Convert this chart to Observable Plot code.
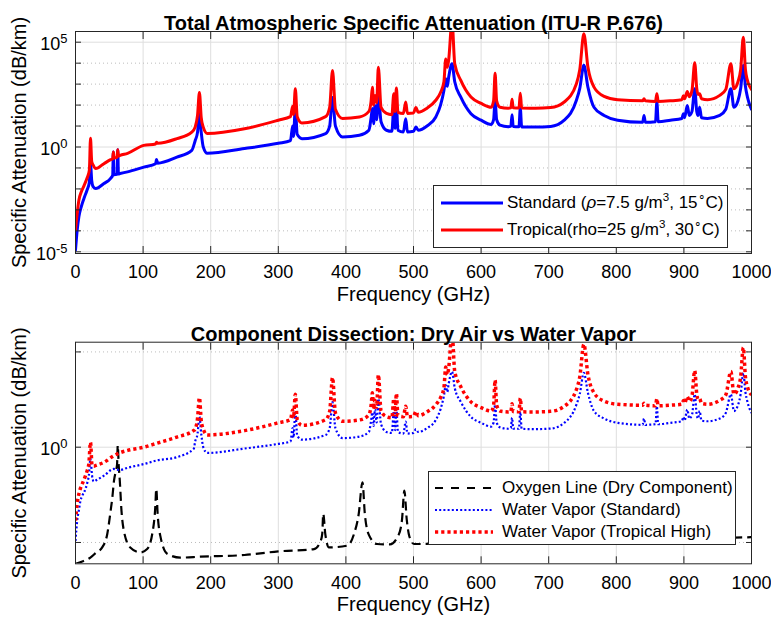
<!DOCTYPE html>
<html><head><meta charset="utf-8">
<script src="https://cdn.jsdelivr.net/npm/d3@7"></script>
<script src="https://cdn.jsdelivr.net/npm/@observablehq/plot@0.6"></script>
<style>
body{margin:0;background:#fff;font-family:"Liberation Sans",Arial,Helvetica,sans-serif;}
#wrap{position:relative;width:771px;height:626px;overflow:hidden;background:#fff}
.panel{position:absolute;left:0}
.legend{position:absolute;background:#fff;border:1px solid #262626;box-sizing:border-box;font-size:17px;color:#000}
.legend .txt{position:absolute;white-space:nowrap;line-height:20px;height:20px}
.legend svg{position:absolute;overflow:visible}
.legend sup{font-size:0.68em;vertical-align:0.6em;line-height:0}
</style></head><body><div id="wrap"></div>
<script>
// ---------- data (dB/km) ----------
const freqTotal = [0, 2.5, 5, 8.5, 12.5, 17, 20.5, 22.2, 24, 26,
  30, 42, 52, 55, 56, 57, 61.5, 62.5, 63.5, 66,
  77, 101, 118.5, 119.9, 121.5, 150, 172, 177, 180.5, 183.3,
  186, 189, 195, 250, 300, 318, 321.2, 322.5, 325.2, 328,
  335, 370, 376, 380.2, 384.5, 395, 420, 434, 437.3, 439.2,
  441, 443, 445.5, 448, 452, 460, 468, 470.9, 472.8, 474.7,
  477, 485, 488.5, 491, 500, 503.6, 507, 520, 533, 540,
  545, 547.7, 550, 552, 557, 561, 570, 585, 600, 615,
  618.5, 620.7, 623, 628, 640, 644, 645.8, 647.5, 656, 658,
  660, 680, 703, 723, 741, 746, 752, 758, 767, 782,
  802, 839, 841, 843, 858, 860, 862, 880, 897, 899.3,
  901, 905, 908, 912, 916, 919, 921, 923.3, 926, 935,
  953, 962, 969.5, 974, 980, 984, 987.9, 991, 994, 1000];
const stdTotal = [1.2e-5, 1.1e-4, 4.7e-4, 1.4e-3, 3.5e-3, 8.7e-3, 0.021, 0.16, 0.025, 0.013,
  0.0105, 0.018, 0.032, 0.045, 0.58, 0.048, 0.05, 0.74, 0.052, 0.054,
  0.065, 0.11, 0.16, 0.25, 0.17, 0.33, 0.69, 2.0, 5.0, 40,
  5.0, 1.0, 0.5, 0.85, 1.5, 2.0, 10, 3.2, 79, 4.0,
  2.5, 4.4, 10, 230, 10, 3.0, 3.6, 6.3, 25, 68,
  13, 95, 20, 350, 16, 6.3, 5.6, 79, 7.9, 100,
  6.3, 5.2, 22, 5.2, 5.6, 8.9, 6.3, 10, 27, 100,
  500, 1800, 790, 2100, 9300, 1300, 240, 39, 19, 12,
  20, 170, 20, 11, 9.3, 10, 35, 9.5, 9.3, 72,
  9.1, 8.9, 9.5, 19, 170, 630, 7900, 720, 79, 32,
  19, 15, 32, 15, 16, 140, 16, 19, 23, 39,
  25, 95, 32, 50, 600, 50, 32, 79, 25, 23,
  32, 63, 600, 79, 160, 630, 7800, 790, 240, 63];
const tropTotal = [1.1e-4, 6.8e-4, 2.9e-3, 7.2e-3, 0.014, 0.032, 0.079, 2.6, 0.2, 0.14,
  0.093, 0.16, 0.25, 0.28, 0.58, 0.3, 0.33, 0.74, 0.37, 0.4,
  0.5, 1.2, 1.4, 1.7, 1.5, 2.5, 5.1, 8.9, 32, 400,
  25, 8.9, 4.4, 7.4, 19, 28, 89, 35, 600, 28,
  14, 28, 79, 4500, 63, 23, 27, 50, 160, 710,
  100, 290, 130, 6300, 79, 40, 35, 350, 50, 660,
  45, 40, 140, 40, 42, 76, 45, 71, 170, 400,
  1300, 16000, 6300, 14000, 1e6, 9300, 1500, 240, 120, 79,
  160, 3300, 160, 79, 71, 74, 190, 74, 72, 370,
  72, 71, 76, 140, 1050, 5000, 250000, 6500, 720, 260,
  180, 160, 200, 160, 150, 350, 150, 160, 180, 280,
  200, 450, 250, 500, 10500, 630, 320, 350, 200, 180,
  290, 560, 9300, 600, 1300, 5000, 170000, 5000, 1500, 560];

// water vapour only (lower panel); above 177 GHz it follows the totals
const freqWV = [0, 2.5, 5, 7.4, 10, 14.8, 17.3, 19.7, 22.2, 24.5, 27, 30, 42, 56.7, 65, 77, 101, 120, 150, 175,
  ...freqTotal.slice(27)];
const stdWV = [1.2e-5, 1.4e-4, 5.0e-4, 1.6e-3, 2.8e-3, 6.5e-3, 0.013, 0.032, 0.25, 0.032, 0.016, 0.018, 0.032, 0.072, 0.063, 0.083, 0.13, 0.2, 0.3, 0.83,
  ...stdTotal.slice(27)];
const tropWV = [1.4e-4, 1.1e-3, 3.5e-3, 7.1e-3, 0.012, 0.032, 0.059, 0.13, 1.8, 0.11, 0.1, 0.11, 0.16, 0.36, 0.5, 0.68, 1.0, 1.6, 3.4, 7.6,
  ...tropTotal.slice(27)];

const freqO2 = [0, 10, 22, 30, 39.5, 47, 52, 54.5, 57, 60, 61.5, 62.5, 64, 65.5, 68, 71.5, 81, 96, 106, 113.5,
  118, 119.5, 121.5, 126, 136, 155, 185, 250, 300, 353, 363, 365, 366.5, 369.5, 375, 402, 412, 419, 424.5, 428,
  434, 446, 465, 478, 483, 486.5, 490, 494, 501, 550, 650, 715, 800, 900, 975, 1000];
const o2Dry = [7.6e-7, 1.0e-6, 1.6e-6, 2.8e-6, 5.5e-6, 2.8e-5, 4.7e-4, 2.3e-3, 0.018, 0.063, 0.126, 1.23, 0.1, 0.018, 4.7e-4, 4.2e-5, 5.5e-6, 3.0e-6, 4.5e-6, 2.8e-5,
  6.9e-4, 6.5e-3, 3.2e-4, 1.8e-5, 2.5e-6, 1.6e-6, 1.8e-6, 2.2e-6, 3.4e-6, 4.5e-6, 1.3e-5, 2.8e-5, 3.2e-4, 2.8e-5, 5.5e-6, 6.8e-6, 2.8e-5, 3.2e-4, 0.0145, 3.2e-4,
  2.5e-5, 8.3e-6, 7.9e-6, 2.5e-5, 1.6e-4, 5.2e-3, 1.6e-4, 2.0e-5, 8.3e-6, 8.9e-6, 1.1e-5, 2.0e-5, 1.4e-5, 1.6e-5, 1.8e-5, 1.9e-5];

const xTicks = [0, 100, 200, 300, 400, 500, 600, 700, 800, 900, 1000];
const topYLabelTicks = [1e-5, 1, 1e5];
const topYDecades = [1e-5, 1e-4, 1e-3, 1e-2, 1e-1, 1, 1e1, 1e2, 1e3, 1e4, 1e5];
const topYMinor = [1e-4, 1e-3, 1e-2, 1e-1, 1e1, 1e2, 1e3, 1e4];
const botYLabelTicks = [1];
const botYMinor = [1e-5, 1e5];
const botYDecades = [1e-5, 1, 1e5];

const titles = ["Total Atmospheric Specific Attenuation (ITU-R P.676)", "Component Dissection: Dry Air vs Water Vapor"];
const xLabel = "Frequency (GHz)";
const yLabel = "Specific Attenuation (dB/km)";

// ---------- drawing ----------
const FONT = "'Liberation Sans', Arial, Helvetica, sans-serif";
const AXIS = "#262626";

function panel({height, marginTop, marginBottom, yDomain, yMajor, yMinor, yAll, lines, title}) {
  return Plot.plot({
    width: 771, height, marginTop, marginBottom, marginLeft: 75, marginRight: 20,
    style: {fontFamily: FONT, fontSize: "18px", color: "#000", background: "transparent", overflow: "visible"},
    x: {domain: [0, 1000]},
    y: {type: "log", domain: yDomain},
    marks: [
      Plot.ruleX(xTicks, {stroke: "#dedede", strokeWidth: 1}),
      Plot.ruleY(yMinor, {stroke: "#bcbcbc", strokeWidth: 1, strokeDasharray: "1,3"}),
      Plot.ruleY(yMajor, {stroke: "#dedede", strokeWidth: 1}),
      ...lines,
      Plot.frame({stroke: AXIS, strokeWidth: 1}),
      Plot.axisX(xTicks, {anchor: "bottom", tickSize: -7, tickFormat: () => "", stroke: AXIS, label: null}),
      Plot.axisX(xTicks, {anchor: "top", tickSize: -7, tickFormat: () => "", stroke: AXIS, label: null}),
      Plot.axisX(xTicks, {anchor: "bottom", tickSize: 0, tickPadding: 12, fontSize: 18, fill: "#000", label: null, tickFormat: d => String(d)}),
      Plot.axisY(yAll, {anchor: "left", tickSize: -6, tickFormat: () => "", stroke: AXIS, label: null}),
      Plot.axisY(yAll, {anchor: "right", tickSize: -6, tickFormat: () => "", stroke: AXIS, label: null}),
      Plot.axisY(yMajor, {anchor: "left", tickSize: 0, tickPadding: 8, fontSize: 18, fill: "#000", label: null,
        tickFormat: d => "10^" + Math.round(Math.log10(d))}),
      Plot.text([title], {frameAnchor: "top", dy: -15.5, fontSize: 20, fontWeight: "bold", fill: "#000"}),
      Plot.text([xLabel], {frameAnchor: "bottom", dy: 47, fontSize: 20, fill: "#000"}),
      Plot.text([yLabel], {frameAnchor: "left", textAnchor: "middle", dx: -55.5, rotate: -90, fontSize: 20, fill: "#000"})
    ]
  });
}

function supTicks(svg) {
  const ns = "http://www.w3.org/2000/svg";
  svg.querySelectorAll("text").forEach(t => {
    if (t.children.length) return;
    const m = t.textContent.match(/^10\^(-?\d+)$/);
    if (!m) return;
    t.textContent = "10";
    const ts = document.createElementNS(ns, "tspan");
    ts.setAttribute("dy", "-0.5em");
    ts.setAttribute("font-size", "0.72em");
    ts.textContent = m[1];
    t.appendChild(ts);
    t.setAttribute("transform", (t.getAttribute("transform") || "") + " translate(0,2)");
  });
}

const wrap = document.getElementById("wrap");

const top1 = panel({
  height: 313, marginTop: 31, marginBottom: 60,
  yDomain: [8.3e-6, 3.24e5], yMajor: topYLabelTicks, yMinor: topYMinor, yAll: topYDecades,
  title: titles[0],
  lines: [
    Plot.line(stdTotal, {x: freqTotal, y: stdTotal, stroke: "#0000ff", strokeWidth: 3, curve: "monotone-x", clip: true}),
    Plot.line(tropTotal, {x: freqTotal, y: tropTotal, stroke: "#ff0000", strokeWidth: 3, curve: "monotone-x", clip: true})
  ]
});
top1.classList.add("panel"); top1.style.top = "0px";
supTicks(top1);
wrap.appendChild(top1);

const bot = panel({
  height: 313, marginTop: 28.7, marginBottom: 62.7,
  yDomain: [7.6e-7, 3.24e5], yMajor: botYLabelTicks, yMinor: botYMinor, yAll: botYDecades,
  title: titles[1],
  lines: [
    Plot.line(o2Dry, {x: freqO2, y: o2Dry, stroke: "#000", strokeWidth: 2.2, strokeDasharray: "9,5", strokeLinecap: "butt", curve: "monotone-x", clip: true}),
    Plot.line(stdWV, {x: freqWV, y: stdWV, stroke: "#0000ff", strokeWidth: 2.2, strokeDasharray: "2,2.2", strokeLinecap: "butt", curve: "monotone-x", clip: true}),
    Plot.line(tropWV, {x: freqWV, y: tropWV, stroke: "#ff0000", strokeWidth: 3.5, strokeDasharray: "3.2,3", strokeLinecap: "butt", curve: "monotone-x", clip: true})
  ]
});
bot.classList.add("panel"); bot.style.top = "313px";
supTicks(bot);
wrap.appendChild(bot);

// ---------- legends ----------
function legend(box, rows) {
  const d = document.createElement("div");
  d.className = "legend";
  Object.assign(d.style, {left: box.left + "px", top: box.top + "px", width: box.width + "px", height: box.height + "px"});
  rows.forEach(r => {
    const s = document.createElementNS("http://www.w3.org/2000/svg", "svg");
    s.setAttribute("width", box.lineW); s.setAttribute("height", 10);
    s.style.left = box.lineX + "px"; s.style.top = (r.cy - 5) + "px";
    const l = document.createElementNS("http://www.w3.org/2000/svg", "line");
    l.setAttribute("x1", 0); l.setAttribute("x2", box.lineW); l.setAttribute("y1", 5); l.setAttribute("y2", 5);
    l.setAttribute("stroke", r.color); l.setAttribute("stroke-width", r.width);
    if (r.dash) l.setAttribute("stroke-dasharray", r.dash);
    s.appendChild(l); d.appendChild(s);
    const t = document.createElement("div");
    t.className = "txt"; t.style.left = box.textX + "px"; t.style.top = (r.cy - 10) + "px";
    t.innerHTML = r.html; d.appendChild(t);
  });
  wrap.appendChild(d);
}

legend({left: 433, top: 185, width: 295, height: 63, lineX: 7, lineW: 62, textX: 73}, [
  {cy: 17, color: "#0000ff", width: 3, html: "Standard (<i>ρ</i>=7.5 g/m<sup>3</sup>, 15<sup>∘</sup>C)"},
  {cy: 44, color: "#ff0000", width: 3, html: "Tropical(rho=25 g/m<sup>3</sup>, 30<sup>∘</sup>C)"}
]);
legend({left: 428, top: 471, width: 308, height: 74, lineX: 6, lineW: 58, textX: 73}, [
  {cy: 15.5, color: "#000", width: 2.2, dash: "8,8", html: "Oxygen Line (Dry Component)"},
  {cy: 37.5, color: "#0000ff", width: 2.2, dash: "2,2.2", html: "Water Vapor (Standard)"},
  {cy: 60, color: "#ff0000", width: 3.5, dash: "3.2,3", html: "Water Vapor (Tropical High)"}
]);
</script>
</body></html>
